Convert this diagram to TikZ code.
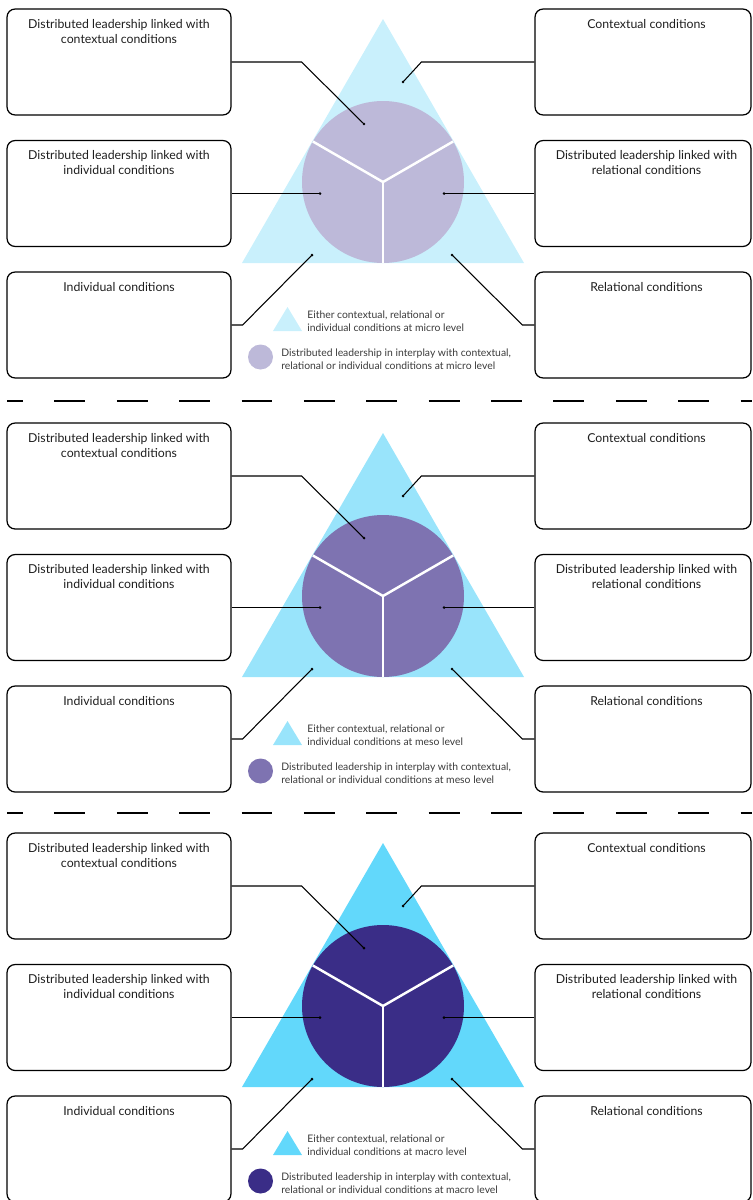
\documentclass[tikz,border=0pt]{standalone}
\usepackage{fontspec}
\setmainfont{Lato}
\usepackage{tikz}
\definecolor{TriMicro}{HTML}{C9F0FC}
\definecolor{CircMicro}{HTML}{BDB9D9}
\definecolor{TriMeso}{HTML}{99E4FB}
\definecolor{CircMeso}{HTML}{7E73B1}
\definecolor{TriMacro}{HTML}{62D8FB}
\definecolor{CircMacro}{HTML}{3A2D87}
\definecolor{TitleGrey}{HTML}{1E1E1E}
\definecolor{LegendGrey}{HTML}{3A3A3A}

\tikzset{
  panelbox/.style={draw, line width=0.7pt, rounded corners=4.6pt, minimum height=2.12cm},
  leftbox/.style={panelbox, minimum width=4.48cm},
  rightbox/.style={panelbox, minimum width=4.32cm},
  boxtitle/.style={anchor=north, align=center, text=TitleGrey, font=\fontsize{7}{8.5}\selectfont, inner sep=0pt},
  legendtext/.style={anchor=west, align=left, text=LegendGrey, font=\fontsize{5.9}{7.3}\selectfont, inner sep=0pt},
  link/.style={line width=0.6pt},
  pin/.style={circle, fill=black, inner sep=0pt, minimum size=1.7pt},
  divider/.style={white, line width=1.4pt},
  separator/.style={line width=0.9pt, dash pattern=on 17.6pt off 17.9pt, dash phase=8.5pt}
}

\begin{document}
\begin{tikzpicture}[x=0.02cm, y=-0.02cm]
  \useasboundingbox (0,0) rectangle (752,1200);

  % separators between the levels
  \draw[separator] (7,401) -- (752,401);
  \draw[separator] (7,813) -- (752,813);

  \foreach \off/\tri/\cfill/\lvl in {0/TriMicro/CircMicro/micro, 414/TriMeso/CircMeso/meso, 824/TriMacro/CircMacro/macro}{
    \begin{scope}[shift={(0,\off)}]
      % triangle and circle
      \fill[\tri] (242,263) -- (383,19) -- (524,263) -- cycle;
      \fill[\cfill] (383,182) circle (81);
      \draw[divider] (383,182) -- (383,263);
      \draw[divider] (383,182) -- +(-150:81);
      \draw[divider] (383,182) -- +(-30:81);

      % boxes
      \node[leftbox] (dlctx-\lvl) at (119,62) {};
      \node[boxtitle] at ([yshift=-6pt]dlctx-\lvl.north) {Distributed leadership linked with\\contextual conditions};
      \node[leftbox] (dlind-\lvl) at (119,193.5) {};
      \node[boxtitle] at ([yshift=-6pt]dlind-\lvl.north) {Distributed leadership linked with\\individual conditions};
      \node[leftbox] (ind-\lvl) at (119,325) {};
      \node[boxtitle] at ([yshift=-6pt]ind-\lvl.north) {Individual conditions};

      \node[rightbox] (ctx-\lvl) at (643,62) {};
      \node[boxtitle] at ([xshift=2pt, yshift=-6pt]ctx-\lvl.north) {Contextual conditions};
      \node[rightbox] (dlrel-\lvl) at (643,193.5) {};
      \node[boxtitle] at ([xshift=2pt, yshift=-6pt]dlrel-\lvl.north) {Distributed leadership linked with\\relational conditions};
      \node[rightbox] (rel-\lvl) at (643,325) {};
      \node[boxtitle] at ([xshift=2pt, yshift=-6pt]rel-\lvl.north) {Relational conditions};

      % pins
      \node[pin] (p-dlctx-\lvl) at (364,124) {};
      \node[pin] (p-ctx-\lvl) at (403,82) {};
      \node[pin] (p-dlind-\lvl) at (320,193.5) {};
      \node[pin] (p-dlrel-\lvl) at (444,193.5) {};
      \node[pin] (p-ind-\lvl) at (312,255) {};
      \node[pin] (p-rel-\lvl) at (452,255) {};

      % connectors
      \draw[link] (dlctx-\lvl.east) -- ++(70,0) -- (p-dlctx-\lvl.center);
      \draw[link] (ctx-\lvl.west) -- ++(-113,0) -- (p-ctx-\lvl.center);
      \draw[link] (dlind-\lvl.east) -- (p-dlind-\lvl.center);
      \draw[link] (dlrel-\lvl.west) -- (p-dlrel-\lvl.center);
      \draw[link] (ind-\lvl.east) -- ++(11,0) -- (p-ind-\lvl.center);
      \draw[link] (rel-\lvl.west) -- ++(-12,0) -- (p-rel-\lvl.center);

      % legend
      \fill[\tri] (273,331) -- (287.5,307) -- (302,331) -- cycle;
      \node[legendtext] (lg-tri-\lvl) at (307,321) {Either contextual, relational or\\individual conditions at \lvl\ level};
      \fill[\cfill] (260.5,357) circle (12.5);
      \node[legendtext] (lg-circ-\lvl) at (281,359.5) {Distributed leadership in interplay with contextual,\\relational or individual conditions at \lvl\ level};
    \end{scope}
  }
\end{tikzpicture}
\end{document}
